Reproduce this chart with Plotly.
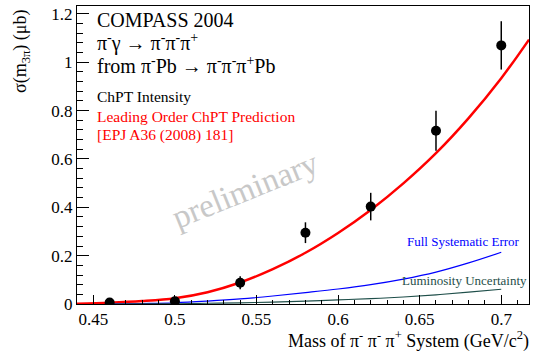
import plotly.graph_objects as go

# Measured points
mass = [0.46, 0.50, 0.54, 0.58, 0.62, 0.66, 0.70]
xsec = [0.006, 0.011, 0.088, 0.295, 0.403, 0.717, 1.070]
xsec_err = [0.003, 0.003, 0.027, 0.043, 0.057, 0.083, 0.100]

# Leading order ChPT prediction
pred_mass = [0.44, 0.46, 0.48, 0.50, 0.52, 0.54, 0.56, 0.58, 0.60, 0.62, 0.64, 0.66, 0.68, 0.70, 0.717]
pred_xsec = [0.001, 0.005, 0.012, 0.024, 0.049, 0.089, 0.144, 0.212, 0.294, 0.389, 0.499, 0.624, 0.769, 0.934, 1.094]

# Systematic error curves
sys_mass = [0.46, 0.48, 0.50, 0.52, 0.54, 0.56, 0.58, 0.60, 0.62, 0.64, 0.66, 0.68, 0.70]
sys_full = [0.000, 0.002, 0.005, 0.012, 0.021, 0.033, 0.047, 0.062, 0.080, 0.103, 0.132, 0.170, 0.214]
sys_lumi = [0.000, 0.0005, 0.001, 0.003, 0.005, 0.008, 0.012, 0.017, 0.022, 0.029, 0.038, 0.049, 0.061]

FONT = "Liberation Serif, Times New Roman, DejaVu Serif, serif"
L, R, T, B = 77, 6, 6, 50
W, H = 535, 354
PW, PH = W - L - R, H - T - B


def px(x):
    return (x - L) / PW


def py(y):
    return (H - B - y) / PH


fig = go.Figure()
fig.add_trace(go.Scatter(x=pred_mass, y=pred_xsec, mode="lines", line=dict(color="#ff0000", width=2.5, shape="spline"),
                         hoverinfo="skip"))
fig.add_trace(go.Scatter(x=sys_mass, y=sys_full, mode="lines", line=dict(color="#0000ff", width=1.2, shape="spline")))
fig.add_trace(go.Scatter(x=sys_mass, y=sys_lumi, mode="lines", line=dict(color="#1f4f4a", width=1.2, shape="spline")))
fig.add_trace(go.Scatter(x=mass, y=xsec, mode="markers",
                         marker=dict(color="black", size=10),
                         error_y=dict(type="data", array=xsec_err, color="black", thickness=1.5, width=0)))

ann = []


def add(text, x, y, size, color="black", xa="left", ya="middle", angle=0):
    ann.append(dict(text=text, x=px(x), y=py(y), xref="paper", yref="paper", xanchor=xa, yanchor=ya,
                    showarrow=False, textangle=angle, font=dict(family=FONT, size=size, color=color)))


add("COMPASS 2004", 95, 19.5, 20)
add("π<sup>-</sup>γ → π<sup>-</sup>π<sup>-</sup>π<sup>+</sup>", 95, 43, 20)
add("from π<sup>-</sup>Pb → π<sup>-</sup>π<sup>-</sup>π<sup>+</sup>Pb", 95, 65, 20)
add("ChPT Intensity", 95, 97, 15.5)
add("Leading Order ChPT Prediction", 95, 116, 15.5, "#ff0000")
add("[EPJ A36 (2008) 181]", 95, 135, 15.5, "#ff0000")
add("preliminary", 245, 190, 33, "#c8c8c8", xa="center", angle=-22)
add("Full Systematic Error", 522, 241, 13, "#0000ff", xa="right")
add("Luminosity Uncertainty", 529, 280, 13, "#1f4f4a", xa="right")
add("Mass of π<sup>-</sup> π<sup>-</sup> π<sup>+</sup> System (GeV/c<sup>2</sup>)", 531, 340, 18, xa="right")
add("σ(m<sub>3π</sub>) (μb)", 21, 7, 18, xa="center", ya="top", angle=-90)

axis_common = dict(showline=True, linecolor="black", linewidth=1, mirror=True, ticks="inside",
                   tickcolor="black", tickwidth=1, showgrid=False, zeroline=False,
                   tickfont=dict(family=FONT, size=17, color="black"))

fig.update_layout(
    width=W, height=H, margin=dict(l=L, r=R, t=T, b=B),
    font=dict(family=FONT, color="black"),
    paper_bgcolor="white", plot_bgcolor="white", showlegend=False,
    annotations=ann,
    xaxis=dict(range=[0.44, 0.717], tickvals=[0.45, 0.5, 0.55, 0.6, 0.65, 0.7],
               ticktext=["0.45", "0.5", "0.55", "0.6", "0.65", "0.7"], ticklen=9,
               minor=dict(dtick=0.01, tick0=0.44, ticks="inside", ticklen=4.5, tickcolor="black", showgrid=False),
               **axis_common),
    yaxis=dict(range=[0, 1.233], tickvals=[0, 0.2, 0.4, 0.6, 0.8, 1.0, 1.2],
               ticktext=["0", "0.2", "0.4", "0.6", "0.8", "1", "1.2"], ticklen=12,
               minor=dict(dtick=0.04, tick0=0, ticks="inside", ticklen=6, tickcolor="black", showgrid=False),
               **axis_common),
)

fig.write_html("out.html")
